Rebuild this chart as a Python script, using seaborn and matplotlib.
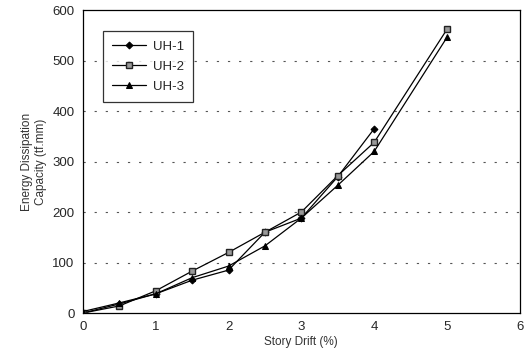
import matplotlib
matplotlib.use("Agg")
import matplotlib.pyplot as plt
import seaborn as sns

# Story drift (%) and energy dissipation capacity (tf.mm)
drift_uh1 = [0, 0.5, 1, 1.5, 2, 2.5, 3, 3.5, 4]
energy_uh1 = [0, 18, 38, 65, 85, 160, 188, 270, 365]

drift_uh2 = [0, 0.5, 1, 1.5, 2, 2.5, 3, 3.5, 4, 5]
energy_uh2 = [0, 14, 44, 83, 120, 160, 200, 272, 338, 562]

drift_uh3 = [0, 0.5, 1, 1.5, 2, 2.5, 3, 3.5, 4, 5]
energy_uh3 = [3, 20, 38, 70, 93, 133, 188, 253, 320, 546]

sns.set_style("white")
plt.rcParams['font.family'] = ['Liberation Sans', 'DejaVu Sans']

fig = plt.figure(figsize=(5.31, 3.59), dpi=100)
ax = fig.add_axes([0.156, 0.128, 0.823, 0.844])

sns.lineplot(x=drift_uh1, y=energy_uh1, ax=ax, color='black', lw=0.9,
             marker='D', markersize=3.5, markerfacecolor='black',
             markeredgecolor='black', label='UH-1')
sns.lineplot(x=drift_uh2, y=energy_uh2, ax=ax, color='black', lw=0.9,
             marker='s', markersize=4.5, markerfacecolor='#999999',
             markeredgecolor='#222222', markeredgewidth=1, label='UH-2')
sns.lineplot(x=drift_uh3, y=energy_uh3, ax=ax, color='black', lw=0.9,
             marker='^', markersize=4.5, markerfacecolor='black',
             markeredgecolor='black', label='UH-3')

ax.set_xlim(0, 6)
ax.set_ylim(0, 600)
ax.set_xticks(range(0, 7))
ax.set_yticks(range(0, 601, 100))
ax.tick_params(labelsize=9.5, length=0, pad=6)

for y in range(100, 600, 100):
    ax.axhline(y, color='#555555', lw=0.8, ls=(0, (2, 8)), zorder=0)

for s in ax.spines.values():
    s.set_color('black')
    s.set_linewidth(0.9)

ax.set_xlabel('Story Drift (%)', fontsize=8.5, color='#333333', labelpad=2)
ax.set_ylabel('Energy Dissipation\nCapacity (tf.mm)', fontsize=8.5,
              color='#333333', labelpad=4)

leg = ax.legend(loc='upper left', bbox_to_anchor=(0.046, 0.93),
                fancybox=False, edgecolor='black', fontsize=9.5,
                handlelength=2.6, borderpad=0.7, labelspacing=0.6,
                handletextpad=0.5, borderaxespad=0)
leg.get_frame().set_linewidth(0.9)

fig.savefig('out.png', dpi=100)
